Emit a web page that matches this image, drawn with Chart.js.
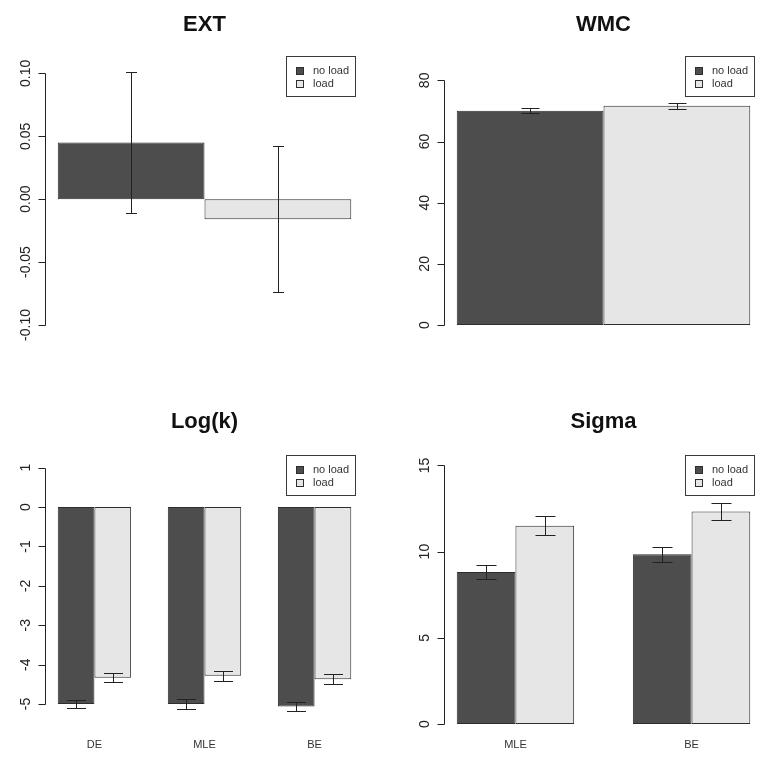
<!DOCTYPE html>
<html>
<head>
<meta charset="utf-8">
<script src="https://cdn.jsdelivr.net/npm/chart.js@4.4.0/dist/chart.umd.min.js"></script>
<style>
  html, body { margin: 0; padding: 0; background: #fff; }
  #wrap { position: relative; width: 764px; height: 760px; }
  #wrap canvas { position: absolute; }
</style>
</head>
<body>
<div id="wrap">
  <canvas id="ext" width="382" height="380" style="left:0;top:0"></canvas>
  <canvas id="wmc" width="382" height="380" style="left:382px;top:0"></canvas>
  <canvas id="logk" width="382" height="380" style="left:0;top:380px"></canvas>
  <canvas id="sigma" width="382" height="380" style="left:382px;top:380px"></canvas>
</div>
<script>
// ---- data ----
const series = ['no load', 'load'];

const extCats = [''];
const extNoLoad = [0.045], extNoLoadErr = [0.056];
const extLoad = [-0.016], extLoadErr = [0.058];
const extTicks = [-0.10, -0.05, 0, 0.05, 0.10];

const wmcCats = [''];
const wmcNoLoad = [70.1], wmcNoLoadErr = [0.8];
const wmcLoad = [71.7], wmcLoadErr = [0.95];
const wmcTicks = [0, 20, 40, 60, 80];

const logkCats = ['DE', 'MLE', 'BE'];
const logkNoLoad = [-5.00, -5.00, -5.06], logkNoLoadErr = [0.11, 0.12, 0.115];
const logkLoad = [-4.33, -4.28, -4.37], logkLoadErr = [0.115, 0.125, 0.125];
const logkTicks = [-5, -4, -3, -2, -1, 0, 1];

const sigmaCats = ['MLE', 'BE'];
const sigmaNoLoad = [8.82, 9.84], sigmaNoLoadErr = [0.39, 0.42];
const sigmaLoad = [11.5, 12.32], sigmaLoadErr = [0.54, 0.49];
const sigmaTicks = [0, 5, 10, 15];

// ---- look ----
const FONT = "'Liberation Sans', Arial, sans-serif";
Chart.defaults.font.family = FONT;
Chart.defaults.color = '#222';
const DARK = '#4d4d4d', LIGHT = '#e6e6e6', EDGE = '#2e2e2e';

// R-style axis, rotated tick labels, error bars and boxed legend
const rPlot = {
  id: 'rPlot',
  afterDraw(chart, args, o) {
    const ctx = chart.ctx, ys = chart.scales.y, a = chart.chartArea;
    ctx.save();
    ctx.strokeStyle = '#222';
    ctx.lineWidth = 1;

    // error bars
    chart.data.datasets.forEach((ds, di) => {
      chart.getDatasetMeta(di).data.forEach((bar, i) => {
        const v = ds.data[i].y, e = ds.errs[i];
        const x = Math.round(bar.x) + 0.5;
        const y1 = Math.round(ys.getPixelForValue(v + e)) + 0.5;
        const y2 = Math.round(ys.getPixelForValue(v - e)) + 0.5;
        ctx.beginPath();
        ctx.moveTo(x, y1); ctx.lineTo(x, y2);
        ctx.moveTo(x - o.cap / 2, y1); ctx.lineTo(x + o.cap / 2, y1);
        ctx.moveTo(x - o.cap / 2, y2); ctx.lineTo(x + o.cap / 2, y2);
        ctx.stroke();
      });
    });

    // y axis: line from first to last tick, outward ticks, rotated labels
    const ticks = ys.ticks.map(t => t.value);
    const ax = Math.round(a.left) - 0.5;
    const py = v => Math.round(ys.getPixelForValue(v)) + 0.5;
    ctx.beginPath();
    ctx.moveTo(ax, py(Math.min(...ticks)));
    ctx.lineTo(ax, py(Math.max(...ticks)));
    ticks.forEach(v => { ctx.moveTo(ax, py(v)); ctx.lineTo(ax - 7, py(v)); });
    ctx.stroke();

    ctx.fillStyle = '#222';
    ctx.font = '14px ' + FONT;
    ctx.textAlign = 'center';
    ctx.textBaseline = 'middle';
    ticks.forEach(v => {
      ctx.save();
      ctx.translate(a.left - 20, ys.getPixelForValue(v));
      ctx.rotate(-Math.PI / 2);
      ctx.fillText(v.toFixed(o.digits), 0, 0);
      ctx.restore();
    });

    // legend, top right inside the plot region
    ctx.font = '11px ' + FONT;
    const tw = Math.max(...series.map(s => ctx.measureText(s).width));
    const w = Math.round(27 + tw + 6), h = 40;
    const right = Math.round(a.right) - 8, top = Math.round(a.top);
    const left = right - w;
    ctx.strokeStyle = '#3a3a3a';
    ctx.strokeRect(left + 0.5, top + 0.5, w, h);
    ctx.textAlign = 'left';
    series.forEach((s, i) => {
      const cy = top + 15 + i * 13.3;
      ctx.fillStyle = chart.data.datasets[i].backgroundColor;
      ctx.fillRect(left + 10, Math.round(cy - 4), 8, 8);
      ctx.strokeStyle = EDGE;
      ctx.strokeRect(left + 10.5, Math.round(cy - 4) + 0.5, 7, 7);
      ctx.fillStyle = '#333';
      ctx.fillText(s, left + 27, cy);
    });
    ctx.restore();
  }
};

function panel(id, p) {
  const canvas = document.getElementById(id);
  const W = canvas.width, H = canvas.height;
  const n = p.noLoad.length;
  const span = 3 * n - 1;                     // bars run from 1 to 3n, as in barplot(beside=TRUE)
  const xmin = 1 - 0.04 * span, xmax = 3 * n + 0.04 * span;
  const catPct = n > 1 ? 2 / 3 : 2 / (xmax - xmin);
  const pts = arr => arr.map((v, i) => ({ x: 3 * i + 2, y: v }));
  const ds = (label, data, errs, color) => ({
    label, data: pts(data), errs,
    backgroundColor: color, borderColor: EDGE, borderWidth: 1, borderSkipped: false,
    categoryPercentage: catPct, barPercentage: 1
  });

  return new Chart(canvas, {
    type: 'bar',
    data: {
      datasets: [
        ds(series[0], p.noLoad, p.noLoadErr, DARK),
        ds(series[1], p.load, p.loadErr, LIGHT)
      ]
    },
    plugins: [rPlot],
    options: {
      responsive: false,
      animation: false,
      devicePixelRatio: 1,
      layout: { padding: { left: 0, top: 0, bottom: 0, right: W - p.area.right } },
      plugins: {
        legend: { display: false },
        tooltip: { enabled: false },
        title: {
          display: true, text: p.title, fullSize: false, color: '#111',
          font: { size: 22, weight: 'bold' },
          padding: { top: p.titlePad[0], bottom: p.titlePad[1] }
        },
        rPlot: { cap: p.cap, digits: p.digits }
      },
      scales: {
        x: {
          type: 'linear', min: xmin, max: xmax, offset: false,
          grid: { display: false, drawTicks: false }, border: { display: false },
          afterBuildTicks: s => { s.ticks = p.cats.map((c, i) => ({ value: 3 * i + 2 })); },
          ticks: {
            display: p.cats.some(c => c), padding: 4, color: '#333', autoSkip: false,
            maxRotation: 0, font: { size: 11 },
            callback: v => p.cats[Math.round((v - 2) / 3)] ?? ''
          },
          afterFit: s => { s.height = H - p.area.bottom; }
        },
        y: {
          min: p.range[0], max: p.range[1],
          grid: { display: false, drawTicks: false }, border: { display: false },
          afterBuildTicks: s => { s.ticks = p.ticks.map(v => ({ value: v })); },
          ticks: { display: false },
          afterFit: s => { s.width = p.area.left; }
        }
      }
    }
  });
}

panel('ext', {
  title: 'EXT', cats: extCats, noLoad: extNoLoad, noLoadErr: extNoLoadErr,
  load: extLoad, loadErr: extLoadErr, ticks: extTicks, digits: 2,
  range: [-0.108, 0.1135], area: { left: 46, right: 363, bottom: 335 },
  titlePad: [12, 18], cap: 11
});
panel('wmc', {
  title: 'WMC', cats: wmcCats, noLoad: wmcNoLoad, noLoadErr: wmcNoLoadErr,
  load: wmcLoad, loadErr: wmcLoadErr, ticks: wmcTicks, digits: 0,
  range: [-3.27, 87.84], area: { left: 63, right: 380, bottom: 335 },
  titlePad: [12, 18], cap: 18
});
panel('logk', {
  title: 'Log(k)', cats: logkCats, noLoad: logkNoLoad, noLoadErr: logkNoLoadErr,
  load: logkLoad, loadErr: logkLoadErr, ticks: logkTicks, digits: 0,
  range: [-5.76, 1.312], area: { left: 46, right: 363, bottom: 354 },
  titlePad: [29, 20], cap: 19
});
panel('sigma', {
  title: 'Sigma', cats: sigmaCats, noLoad: sigmaNoLoad, noLoadErr: sigmaNoLoadErr,
  load: sigmaLoad, loadErr: sigmaLoadErr, ticks: sigmaTicks, digits: 0,
  range: [-0.579, 15.579], area: { left: 63, right: 380, bottom: 354 },
  titlePad: [29, 20], cap: 20
});
</script>
</body>
</html>
